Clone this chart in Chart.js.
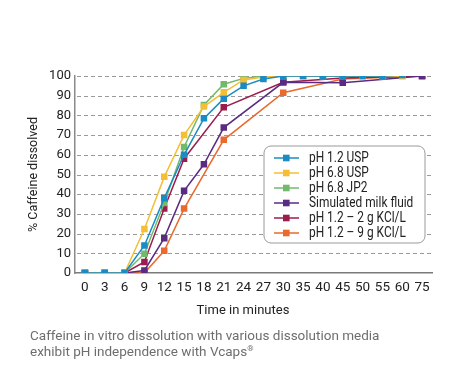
<!DOCTYPE html>
<html>
<head>
<meta charset="utf-8">
<script src="https://cdn.jsdelivr.net/npm/chart.js@4"></script>
<style>
  body { margin: 0; background: #fff; }
  #wrap { position: relative; width: 450px; height: 373px; }
  #caption {
    position: absolute; left: 30px; top: 328px;
    font-family: 'Roboto', sans-serif;
    font-size: 13.5px; line-height: 14px; color: #6e6e6e;
  }
  #caption sup { font-size: 8px; vertical-align: 5px; }
</style>
</head>
<body>
<div id="wrap">
  <canvas id="myChart" width="450" height="373"></canvas>
  <div id="caption">Caffeine in vitro dissolution with various dissolution media<br>exhibit pH independence with Vcaps<sup>®</sup></div>
</div>
<script>
// time points (minutes) - the chart uses them as evenly spaced categories
const times = ['0', '3', '6', '9', '12', '15', '18', '21', '24', '27', '30', '35', '40', '45', '50', '55', '60', '75'];

// % caffeine dissolved per medium (null = no measurement at that time)
const ph12Usp = [0, 0, 0, 14, 38, 60, 78.5, 88.5, 95, 98.5, 100, 100, 100, 100, 100, 100, 100.5, null];
const ph68Usp = [0, 0, 0, 22.3, 48.8, 70, 84.5, 91.7, 98, 99.5, 100, 100, 100, 100, 100, 100, 100, null];
const ph68Jp2 = [0, 0, 0, 9.8, 35.5, 64, 85.3, 95.8, 98.8, 100, 100, 100, 100, 100, 100, 100, 100, null];
const milkFluid = [0, 0, 0, 1.3, 17.7, 41.7, 55.2, 73.8, null, null, 96.8, null, null, 96.6, null, null, null, 100];
const kcl2 = [0, 0, 0, 5.6, 32.7, 58, null, 84.1, null, null, 96.8, null, null, 99, null, null, null, 100];
const kcl9 = [0, 0, 0, 0, 11.3, 32.7, null, 67.6, null, null, 91.5, null, null, 98.5, null, null, null, 100];

const seriesNames = ['pH 1.2 USP', 'pH 6.8 USP', 'pH 6.8 JP2', 'Simulated milk fluid', 'pH 1.2 \u2013 2 g KCl/L', 'pH 1.2 \u2013 9 g KCl/L'];
const seriesColors = ['#1a8cc3', '#f5bf35', '#73b96c', '#5a2b82', '#9b1d4d', '#e96a2c'];
const yTicks = [0, 10, 20, 30, 40, 50, 60, 70, 80, 90, 100];

const FONT = "'Roboto', sans-serif";

function makeSet(i, values) {
  return {
    label: seriesNames[i],
    data: values,
    borderColor: seriesColors[i],
    backgroundColor: seriesColors[i],
    borderWidth: 1.5,
    pointStyle: 'rect',
    pointRadius: 4.6,
    pointBorderWidth: 0,
    spanGaps: true,
    tension: 0
  };
}

// dashed horizontal grid, behind the lines
const dashGrid = {
  id: 'dashGrid',
  beforeDatasetsDraw(chart) {
    const c = chart.ctx;
    const area = chart.chartArea;
    const y = chart.scales.y;
    c.save();
    c.strokeStyle = '#9a9a9a';
    c.lineWidth = 1;
    c.setLineDash([4, 3]);
    yTicks.forEach(v => {
      if (v === 0) return;
      const py = Math.round(y.getPixelForValue(v)) + 0.5;
      c.beginPath();
      c.moveTo(area.left + 2, py);
      c.lineTo(area.right, py);
      c.stroke();
    });
    c.restore();
  }
};

// legend box inside the plot + x axis title
const boxLegend = {
  id: 'boxLegend',
  afterDraw(chart) {
    const c = chart.ctx;
    const x = 264, y = 146, w = 161, h = 97, r = 7;
    c.save();
    c.beginPath();
    c.roundRect(x, y, w, h, r);
    c.fillStyle = '#fff';
    c.fill();
    c.strokeStyle = '#9a9a9a';
    c.lineWidth = 1;
    c.stroke();
    c.font = '14px ' + FONT;
    c.textBaseline = 'middle';
    chart.data.datasets.forEach((ds, i) => {
      const rowY = 158 + i * 15;
      c.strokeStyle = ds.borderColor;
      c.lineWidth = 1.5;
      c.beginPath();
      c.moveTo(274, rowY);
      c.lineTo(299, rowY);
      c.stroke();
      c.fillStyle = ds.borderColor;
      c.fillRect(283, rowY - 3.3, 6.6, 6.6);
      // the original uses a condensed face, so squeeze the text a bit
      c.save();
      c.translate(309, rowY + 0.5);
      c.scale(0.85, 1);
      c.fillStyle = '#222';
      c.fillText(ds.label, 0, 0);
      c.restore();
    });
    c.font = '13px ' + FONT;
    c.textAlign = 'center';
    c.fillStyle = '#222';
    c.fillText('Time in minutes', 243, 311);
    c.restore();
  }
};

const ctx = document.getElementById('myChart').getContext('2d');
const myChart = new Chart(ctx, {
  type: 'line',
  data: {
    labels: times,
    datasets: [
      makeSet(0, ph12Usp),
      makeSet(1, ph68Usp),
      makeSet(2, ph68Jp2),
      makeSet(3, milkFluid),
      makeSet(4, kcl2),
      makeSet(5, kcl9)
    ]
  },
  options: {
    responsive: false,
    animation: false,
    layout: { padding: { left: 20, right: 18, top: 76, bottom: 50 } },
    plugins: {
      legend: { display: false },
      tooltip: { enabled: false }
    },
    scales: {
      x: {
        offset: true,
        grid: { display: false, drawTicks: false },
        border: { color: '#7a7a7a', width: 1.5 },
        ticks: { color: '#222', font: { family: FONT, size: 13.5 }, padding: 7, maxRotation: 0, autoSkip: false },
        afterFit(scale) { scale.height = 50; }
      },
      y: {
        min: 0,
        max: 100,
        afterBuildTicks(scale) { scale.ticks = yTicks.map(v => ({ value: v })); },
        grid: { display: false, drawTicks: false },
        border: { color: '#8a8a8a', width: 1.5 },
        ticks: { color: '#222', font: { family: FONT, size: 13 }, padding: 4 },
        title: { display: true, text: '% Caffeine dissolved', color: '#222', font: { family: FONT, size: 12.5 }, padding: { top: 6 } },
        afterFit(scale) { scale.width = 55; }
      }
    }
  },
  plugins: [dashGrid, boxLegend]
});
</script>
</body>
</html>
